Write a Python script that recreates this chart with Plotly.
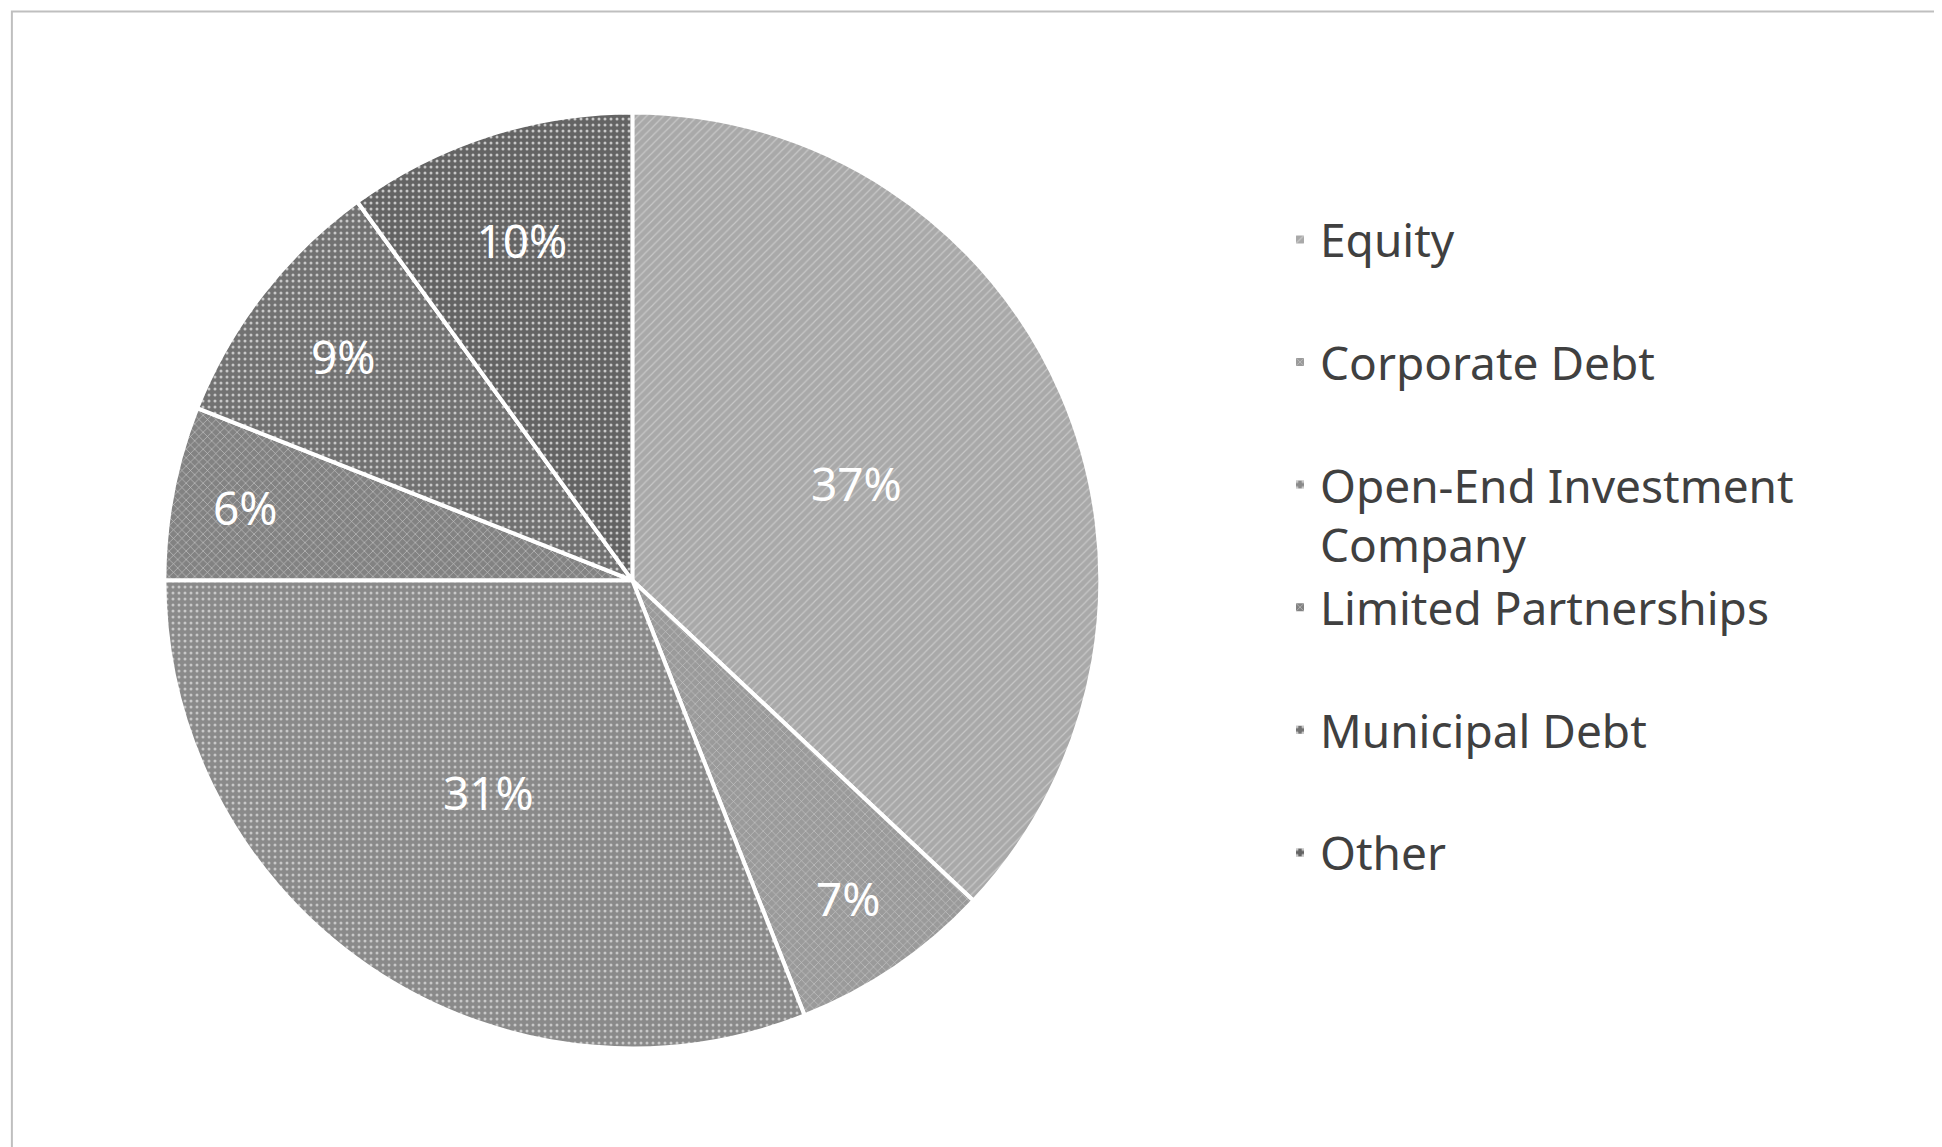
import plotly.graph_objects as go

labels = ["Equity", "Corporate Debt", "Open-End Investment<br>Company",
          "Limited Partnerships", "Municipal Debt", "Other"]
values = [37, 7, 31, 6, 9, 10]
colors = ["#a9a9a9", "#9a9a9a", "#8a8a8a", "#828282", "#727272", "#646464"]
patterns = ["/", "x", ".", "x", ".", "."]

# pad single-line labels so legend rows are spaced like the original
legend_labels = [l if "<br>" in l else l + "<br> " for l in labels]

fig = go.Figure(go.Pie(
    labels=legend_labels,
    values=values,
    sort=False,
    direction="clockwise",
    rotation=0,
    texttemplate="%{percent:.0%}",
    textposition="inside",
    insidetextorientation="horizontal",
    textfont=dict(color="white", size=46, family="Noto Sans"),
    marker=dict(colors=colors, line=dict(color="white", width=4),
                pattern=dict(shape=patterns, fgcolor="#c8c8c8", bgcolor=colors,
                             size=6, solidity=0.2)),
    domain=dict(x=[0.08, 0.563], y=[0.093, 0.909]),
))

fig.update_layout(
    width=1942, height=1147,
    margin=dict(l=0, r=0, t=0, b=0),
    paper_bgcolor="white",
    font=dict(family="Noto Sans", color="#404040"),
    legend=dict(x=0.655, y=0.83, xanchor="left", yanchor="top",
                bgcolor="rgba(0,0,0,0)",
                font=dict(size=46, color="#404040"), valign="top",
                itemwidth=30),
    shapes=[dict(type="rect", xref="paper", yref="paper", x0=0.002, y0=0.003,
                 x1=0.997, y1=0.997, line=dict(color="#bfbfbf", width=2))],
)

fig.write_html("out.html")
